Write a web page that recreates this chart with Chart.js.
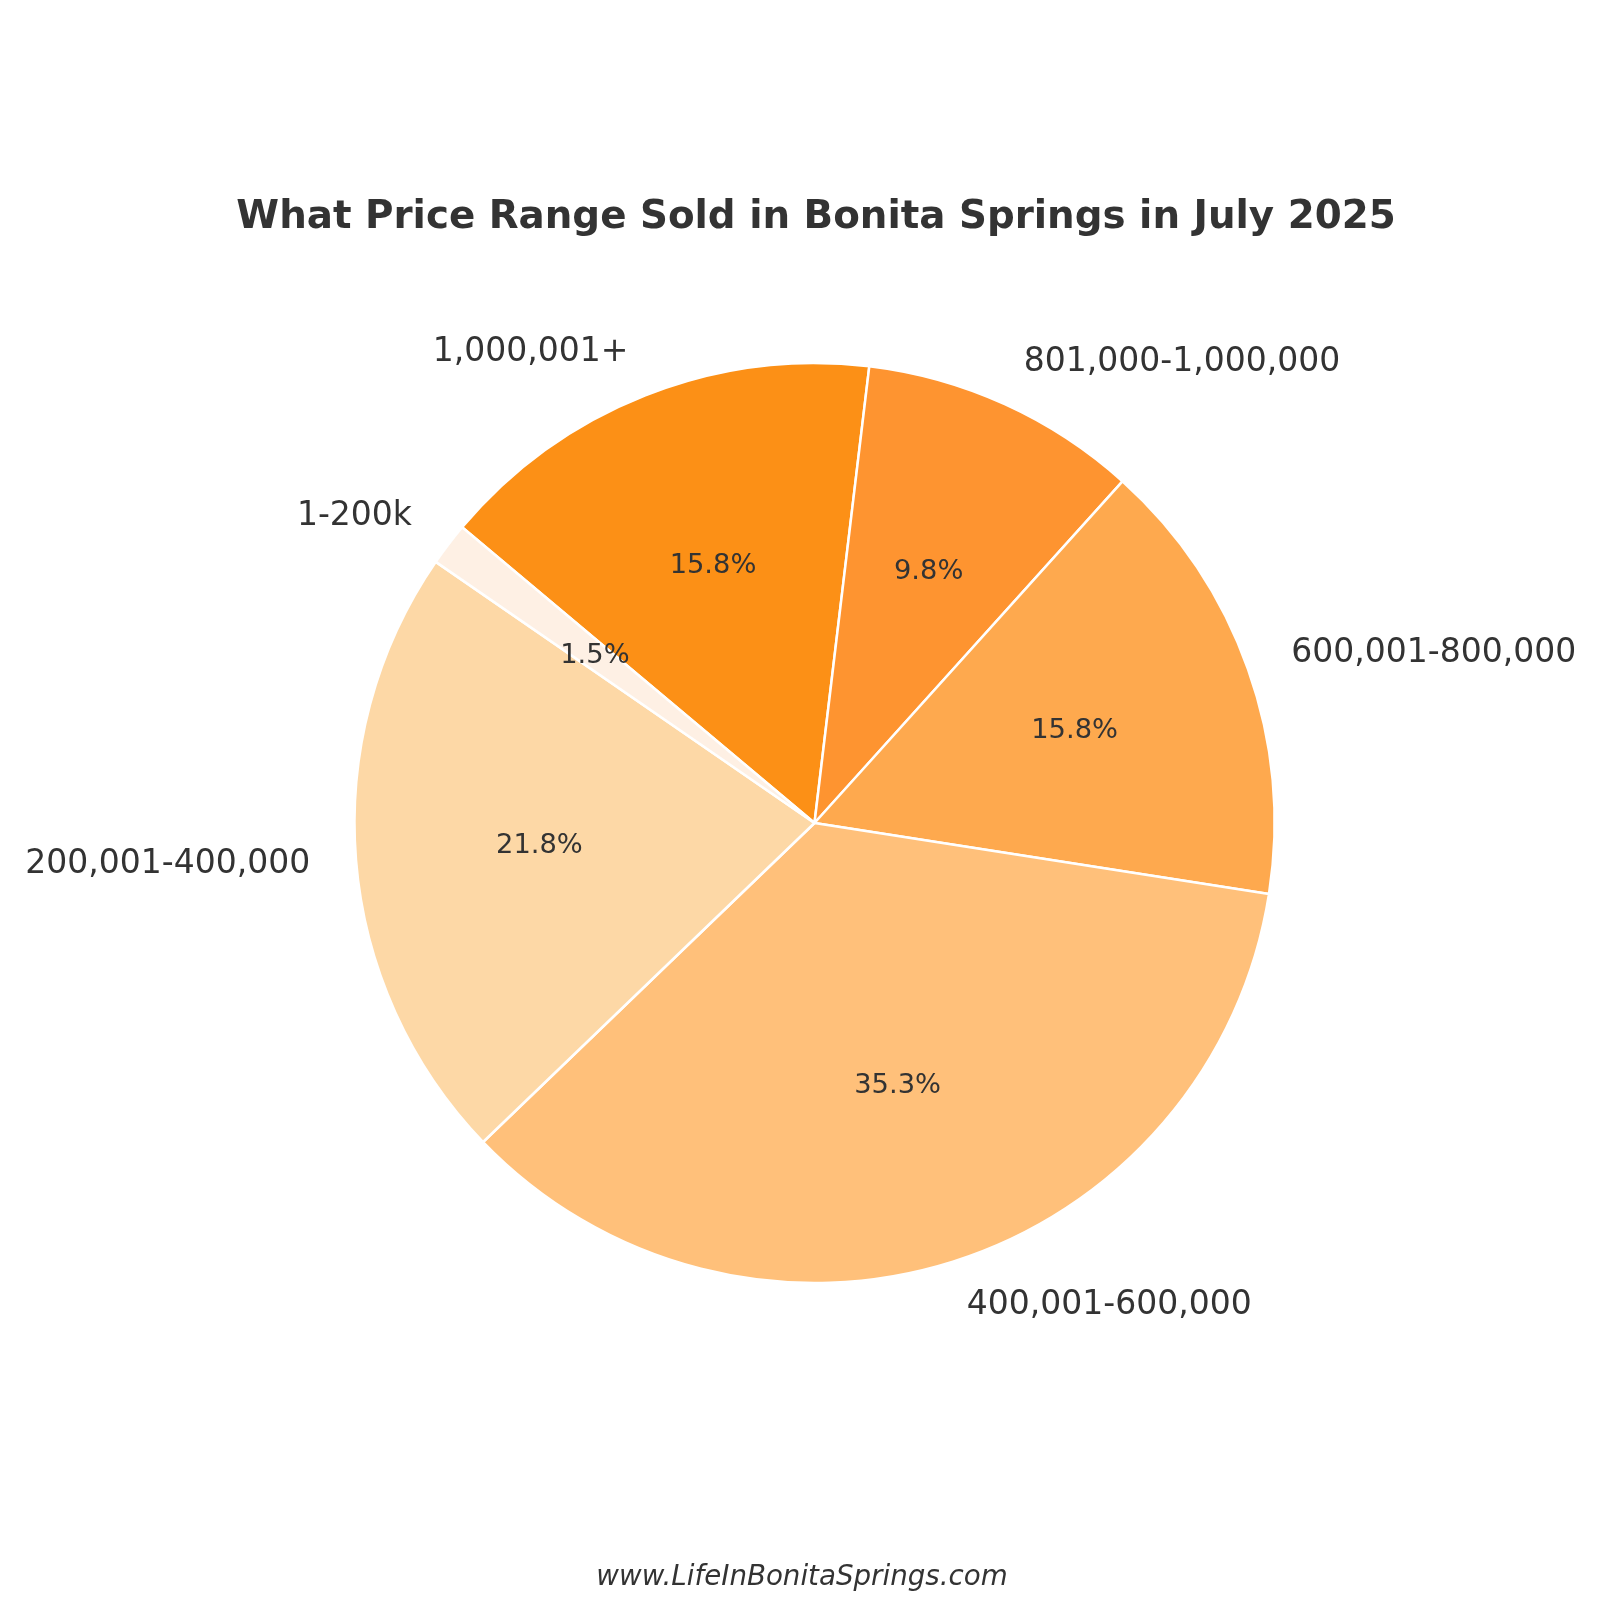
<!DOCTYPE html>
<html>
<head>
<meta charset="utf-8">
<script src="https://cdn.jsdelivr.net/npm/chart.js@4"></script>
<style>
  html, body { margin: 0; padding: 0; background: #ffffff; }
  #wrap { width: 1600px; height: 1600px; }
</style>
</head>
<body>
<div id="wrap"><canvas id="pieChart" width="1600" height="1600"></canvas></div>
<script>
// 資料
const categories = ['1-200k', '200,001-400,000', '400,001-600,000', '600,001-800,000', '801,000-1,000,000', '1,000,001+'];
const salesCount = [2, 29, 47, 21, 13, 21];
const sliceColors = ['#FEF0E4', '#FDD8A6', '#FFC07A', '#FEA94E', '#FE9430', '#FC9016'];

const titleText = 'What Price Range Sold in Bonita Springs in July 2025';
const footerText = 'www.LifeInBonitaSprings.com';
const textColor = '#333333';

// matplotlib 逆時針排列, Chart.js 順時針 -> 反轉順序
const labelsCw = categories.slice().reverse();
const valuesCw = salesCount.slice().reverse();
const colorsCw = sliceColors.slice().reverse();

// 標籤與百分比文字
const pieText = {
    id: 'pieText',
    afterDatasetsDraw(chart) {
        const ctx = chart.ctx;
        const meta = chart.getDatasetMeta(0);
        const data = chart.data.datasets[0].data;
        const total = data.reduce((a, b) => a + b, 0);
        ctx.save();
        ctx.fillStyle = textColor;
        meta.data.forEach((arc, i) => {
            const p = arc.getProps(['x', 'y', 'startAngle', 'endAngle', 'outerRadius'], true);
            const mid = (p.startAngle + p.endAngle) / 2;
            const cos = Math.cos(mid), sin = Math.sin(mid);
            // 外側標籤
            ctx.font = '33px "DejaVu Sans"';
            ctx.textBaseline = 'middle';
            ctx.textAlign = cos >= 0 ? 'left' : 'right';
            ctx.fillText(chart.data.labels[i], p.x + cos * p.outerRadius * 1.1, p.y + sin * p.outerRadius * 1.1);
            // 百分比
            ctx.font = '27.3px "DejaVu Sans"';
            ctx.textAlign = 'center';
            const pct = (data[i] / total * 100).toFixed(1) + '%';
            ctx.fillText(pct, p.x + cos * p.outerRadius * 0.6, p.y + sin * p.outerRadius * 0.6);
        });
        // 標題
        ctx.textAlign = 'center';
        ctx.textBaseline = 'middle';
        ctx.font = 'bold 38.8px "DejaVu Sans"';
        ctx.fillText(titleText, 816, 218);
        // 網址
        ctx.font = 'italic 27.7px "DejaVu Sans"';
        ctx.fillText(footerText, 802, 1578);
        ctx.restore();
    }
};

new Chart(document.getElementById('pieChart'), {
    type: 'pie',
    data: {
        labels: labelsCw,
        datasets: [{
            data: valuesCw,
            backgroundColor: colorsCw,
            borderColor: '#ffffff',
            borderWidth: 2.5,
            borderAlign: 'center',
            radius: 460
        }]
    },
    options: {
        responsive: false,
        devicePixelRatio: 1,
        animation: false,
        rotation: -50,
        layout: {
            padding: { left: 354, right: 1600 - 1275, top: 362, bottom: 1600 - 1284 }
        },
        plugins: {
            legend: { display: false },
            tooltip: { enabled: false },
            title: { display: false }
        }
    },
    plugins: [pieText]
});
</script>
</body>
</html>
